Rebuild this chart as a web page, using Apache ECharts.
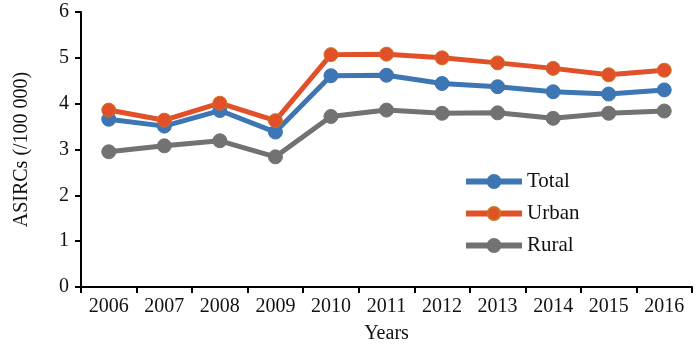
<!DOCTYPE html>
<html><head><meta charset="utf-8">
<script src="https://cdn.jsdelivr.net/npm/echarts@6/dist/echarts.min.js"></script>
<style>html,body{margin:0;padding:0;background:#fff}#c{width:700px;height:348px}</style>
</head><body><div id="c"></div>
<script>
const years = ['2006','2007','2008','2009','2010','2011','2012','2013','2014','2015','2016'];
const total = [3.66, 3.51, 3.85, 3.38, 4.61, 4.62, 4.44, 4.37, 4.26, 4.21, 4.30];
const urban = [3.86, 3.64, 4.01, 3.63, 5.07, 5.08, 5.00, 4.89, 4.77, 4.63, 4.73];
const rural = [2.95, 3.08, 3.19, 2.84, 3.72, 3.86, 3.79, 3.80, 3.68, 3.79, 3.84];
const yTicks = [0,1,2,3,4,5,6];

const font = 'Liberation Serif';
const chart = echarts.init(document.getElementById('c'));
function s(name, data, color, border){
  return {name, type:'line', data, symbol:'circle', symbolSize:14,
    lineStyle:{width:5, color},
    itemStyle:{color, borderColor:border, borderWidth:1},
    z: name==='Urban'?3:2};
}
chart.setOption({
  animation:false,
  textStyle:{fontFamily:font},
  grid:{left:81, right:8, top:12, bottom:61, containLabel:false, outerBoundsMode:'none'},
  legend:{orient:'vertical', left:458, top:166, itemWidth:56, itemHeight:16, itemGap:11,
    lineStyle:{width:6},
    textStyle:{fontFamily:font, fontSize:21, color:'#111'},
    data:['Total','Urban','Rural']},
  xAxis:{type:'category', data:years, boundaryGap:true,
    name:'Years', nameLocation:'middle', nameGap:37,
    nameTextStyle:{fontFamily:font, fontSize:20, color:'#111'},
    axisLine:{lineStyle:{color:'#000', width:2}},
    axisTick:{show:true, length:6, lineStyle:{color:'#000', width:2}, alignWithLabel:false},
    axisLabel:{fontFamily:font, fontSize:20, color:'#111', margin:10}},
  yAxis:{type:'value', min:0, max:6, interval:1,
    name:'ASIRCs (/100 000)', nameLocation:'middle', nameGap:49,
    nameTextStyle:{fontFamily:font, fontSize:20, color:'#111'},
    axisLine:{show:true, lineStyle:{color:'#000', width:2}},
    axisTick:{show:true, length:6, lineStyle:{color:'#000', width:2}},
    splitLine:{show:false},
    axisLabel:{fontFamily:font, fontSize:20, color:'#111', margin:12,
      formatter:v=>yTicks.includes(v)?String(v):''}},
  series:[
    s('Total', total, '#3d76b3', '#3d76b3'),
    s('Urban', urban, '#e2502a', '#c8741e'),
    s('Rural', rural, '#727272', '#727272')
  ]
});
</script></body></html>
